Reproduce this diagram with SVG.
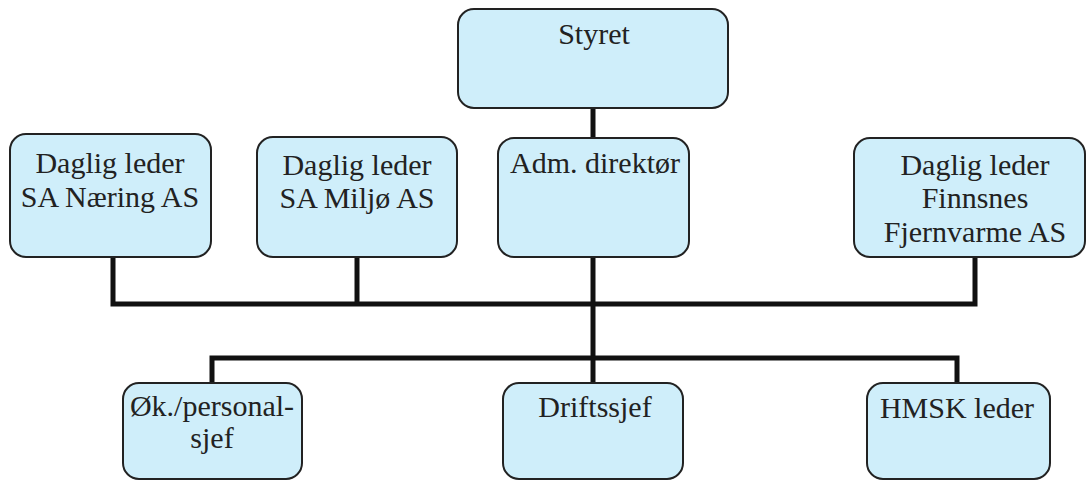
<svg xmlns="http://www.w3.org/2000/svg" width="1089" height="483" viewBox="0 0 1089 483">
<style>
.box{fill:#cfeefa;stroke:#222;stroke-width:2}
.c{fill:none;stroke:#111;stroke-width:5;stroke-linejoin:miter;stroke-linecap:butt}
</style>
<rect width="1089" height="483" fill="#ffffff"/>
<g id="connectors">
<line class="c" x1="593" y1="108" x2="593" y2="138"/>
<polyline class="c" points="113,257 113,304 975,304 975,257"/>
<line class="c" x1="357" y1="257" x2="357" y2="304"/>
<line class="c" x1="593" y1="257" x2="593" y2="383"/>
<polyline class="c" points="212,383 212,358 957,358 957,383"/>
</g>
<g font-family="Liberation Serif" font-size="30" fill="#222" text-anchor="middle">
<g id="styret">
<rect class="box" x="458" y="9" width="270" height="99" rx="16"/>
<text x="594" y="44">Styret</text>
</g>
<g id="naering">
<rect class="box" x="10" y="134" width="201" height="123" rx="16"/>
<text x="110" y="173">Daglig leder</text>
<text x="110" y="207">SA Næring AS</text>
</g>
<g id="miljo">
<rect class="box" x="257" y="137" width="200" height="120" rx="16"/>
<text x="357" y="175">Daglig leder</text>
<text x="357" y="208">SA Miljø AS</text>
</g>
<g id="adm">
<rect class="box" x="498" y="138" width="191" height="119" rx="16"/>
<text x="595" y="173">Adm. direktør</text>
</g>
<g id="finnsnes">
<rect class="box" x="854" y="138" width="231" height="119" rx="16"/>
<text x="975" y="175">Daglig leder</text>
<text x="975" y="208">Finnsnes</text>
<text x="975" y="242">Fjernvarme AS</text>
</g>
<g id="okonomi">
<rect class="box" x="123" y="383" width="179" height="96" rx="16"/>
<text x="212" y="416">Øk./personal-</text>
<text x="212" y="448">sjef</text>
</g>
<g id="drift">
<rect class="box" x="503" y="383" width="180" height="96" rx="16"/>
<text x="595" y="417">Driftssjef</text>
</g>
<g id="hmsk">
<rect class="box" x="867" y="383" width="183" height="96" rx="16"/>
<text x="957" y="418">HMSK leder</text>
</g>
</g>
</svg>
